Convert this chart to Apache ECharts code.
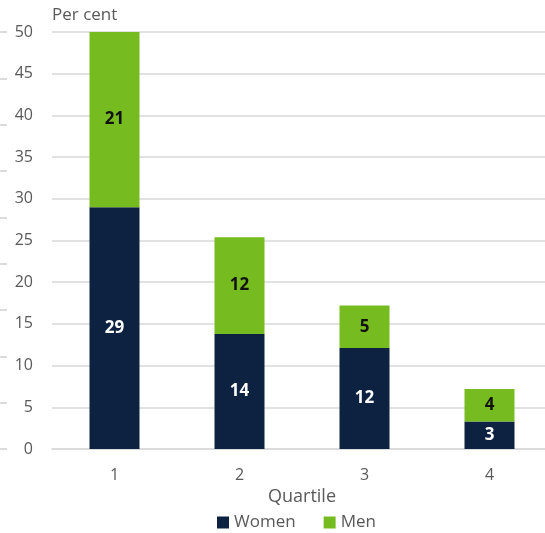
<!DOCTYPE html>
<html><head><meta charset="utf-8">
<script src="https://cdn.jsdelivr.net/npm/echarts@6/dist/echarts.min.js"></script>
<style>html,body{margin:0;padding:0;background:#fff}#c{width:545px;height:533px}</style>
</head><body><div id="c"></div>
<script>
const categories = ['1', '2', '3', '4'];
const women = [29.0, 13.8, 12.1, 3.3];
const men = [21.0, 11.6, 5.1, 3.9];
const yTicks = [0, 5, 10, 15, 20, 25, 30, 35, 40, 45, 50];

const FONT = '"Open Sans", "Noto Sans", sans-serif';
const chart = echarts.init(document.getElementById('c'));
chart.setOption({
  animation: false,
  textStyle: { fontFamily: FONT },
  grid: { left: 52, width: 500, top: 32, height: 417, outerBoundsMode: 'none', containLabel: false },
  legend: {
    data: ['Women', 'Men'], top: 509, left: 212, icon: 'rect',
    itemWidth: 12, itemHeight: 12, itemGap: 28,
    textStyle: { fontSize: 17, color: '#595959', fontFamily: FONT }
  },
  xAxis: {
    type: 'category', data: categories,
    name: 'Quartile', nameLocation: 'middle', nameGap: 34,
    nameTextStyle: { fontSize: 18, color: '#595959', fontFamily: FONT },
    axisLine: { lineStyle: { color: '#d9d9d9', width: 1.5 } },
    axisTick: { show: false },
    axisLabel: { fontSize: 16, color: '#595959', margin: 18, fontFamily: FONT }
  },
  yAxis: [{
    type: 'value', min: yTicks[0], max: yTicks[yTicks.length - 1], interval: 5,
    name: 'Per cent', nameGap: 8,
    nameTextStyle: { fontSize: 17, color: '#595959', align: 'left', fontFamily: FONT },
    axisLine: { show: false }, axisTick: { show: false },
    axisLabel: { fontSize: 16, color: '#595959', margin: 19, fontFamily: FONT },
    splitLine: { lineStyle: { color: '#d9d9d9', width: 1.5 } }
  }, {
    type: 'value', min: 0, max: 9, interval: 1, position: 'left', offset: 45,
    axisLine: { show: false },
    axisTick: { show: true, length: 7, lineStyle: { color: '#d0d0d0', width: 1.5 } },
    axisLabel: { show: false }, splitLine: { show: false }
  }],
  series: [{
    name: 'Women', type: 'bar', stack: 'a', data: women, barWidth: 50,
    itemStyle: { color: '#0d2240' },
    label: { show: true, position: 'inside', color: '#fff', fontWeight: 'bold', fontSize: 17,
      fontFamily: FONT, formatter: p => Math.round(p.value) }
  }, {
    name: 'Men', type: 'bar', stack: 'a', data: men, barWidth: 50,
    itemStyle: { color: '#76bc21' },
    label: { show: true, position: 'inside', color: '#111', fontWeight: 'bold', fontSize: 17,
      fontFamily: FONT, formatter: p => Math.round(p.value) }
  }]
});
</script></body></html>
